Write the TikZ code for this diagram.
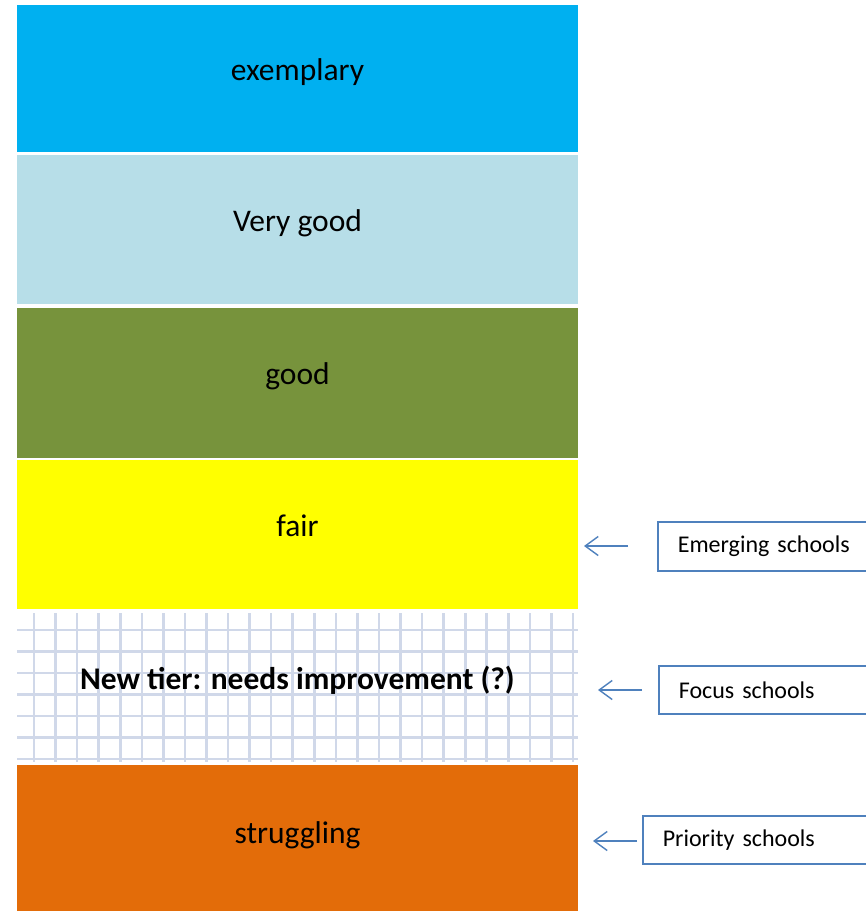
\documentclass[tikz,border=0pt]{standalone}
\usepackage{fontspec}
\setmainfont{Carlito}
\usetikzlibrary{arrows.meta}
\definecolor{cExem}{HTML}{00B0F0}
\definecolor{cVgood}{HTML}{B7DEE8}
\definecolor{cGood}{HTML}{77933C}
\definecolor{cFair}{HTML}{FFFF00}
\definecolor{cStrug}{HTML}{E36C09}
\definecolor{cGrid}{RGB}{208,216,233}
\definecolor{cBlue}{RGB}{79,129,189}
\tikzset{
  bar/.style={draw=none, minimum width=561pt, minimum height=147pt, inner sep=0pt,
    text height=20pt, text depth=17pt,
    font=\fontsize{31.5}{38}\selectfont},
  sbox/.style={draw=cBlue, line width=1.6pt, fill=white, anchor=west, text width=200pt,
    align=left, inner xsep=20pt, minimum height=49pt, font=\fontsize{24}{29}\selectfont},
  sarrow/.style={draw=cBlue, line width=1.4pt, -{Straight Barb[length=13pt,width=19pt,line width=1.4pt]}},
  gridline/.style={draw=cGrid, line width=2.6pt}
}
\begin{document}
\begin{tikzpicture}[x=1pt,y=-1pt]
\useasboundingbox (0,0) rectangle (866,911);
\clip (0,0) rectangle (866,911);
\fill[white] (0,0) rectangle (866,911);
% bars
\node[bar, fill=cExem] (b1) at (297.5,78.5) {exemplary};
\node[bar, fill=cVgood, minimum height=149pt] (b2) at (297.5,229.5) {Very good};
\node[bar, fill=cGood, minimum height=150pt] (b3) at (297.5,382.5) {good};
\node[bar, fill=cFair, minimum height=149pt] (b4) at (297.5,534.5) {fair};
% grid tier
\foreach \k in {0,...,25} {
  \draw[gridline] ({34+\k*21.56},613) -- ({34+\k*21.56},762);
}
\foreach \k in {0,...,6} {
  \draw[gridline] (17,{630+\k*21.5}) -- (578,{630+\k*21.5});
}
\node[bar, minimum height=149pt, font=\fontsize{31.5}{38}\selectfont\bfseries] (b5) at (297.5,687.5) {New tier: needs improvement (?)};
\node[bar, fill=cStrug, minimum height=146pt, text height=24pt, text depth=13pt] (b6) at (297.5,838) {struggling};
% side boxes
\node[sbox, minimum height=49pt] (em) at (657,546.5) {Emerging schools};
\node[sbox, minimum height=48pt] (fo) at (658,690) {Focus schools};
\node[sbox, minimum height=48pt] (pr) at (642,840) {Priority schools};
% arrows
\coordinate (em1) at (628,546);
\coordinate (em2) at (584,546);
\coordinate (fo1) at (642,690);
\coordinate (fo2) at (598,690);
\coordinate (pr1) at (637,841);
\coordinate (pr2) at (593,841);
\draw[sarrow] (em1) -- (em2);
\draw[sarrow] (fo1) -- (fo2);
\draw[sarrow] (pr1) -- (pr2);
\end{tikzpicture}
\end{document}
